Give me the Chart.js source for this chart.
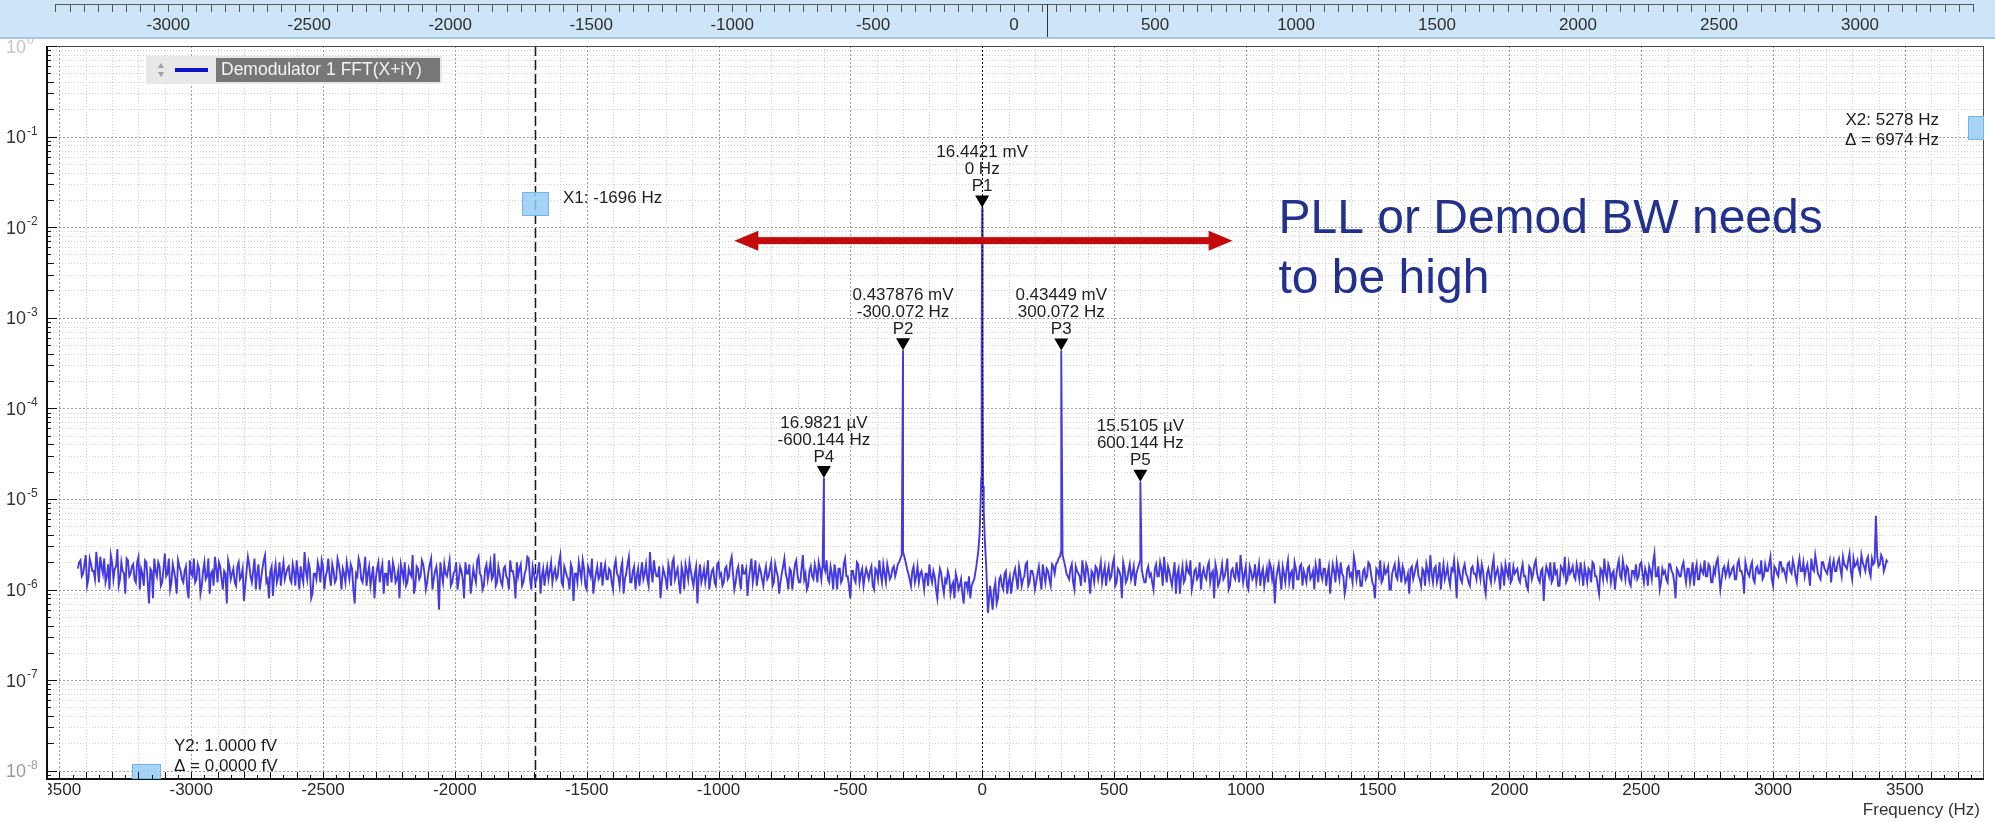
<!DOCTYPE html>
<html>
<head>
<meta charset="utf-8">
<title>Demodulator 1 FFT</title>
<script src="https://cdn.jsdelivr.net/npm/chart.js@4.4.1/dist/chart.umd.min.js"></script>
<style>
  html, body { margin: 0; padding: 0; background: #fff; }
  #wrap { width: 1995px; height: 822px; }
</style>
</head>
<body>
<div id="wrap"><canvas id="fft" width="1995" height="822"></canvas></div>
<script>
const FONT = '"Liberation Sans", Arial, Helvetica, sans-serif';

// axis ranges and ticks
const xMinHz = -3547, xMaxHz = 3800;
const yMinV = 8.1e-9, yMaxV = 1;
const xTickHz = [-3500, -3000, -2500, -2000, -1500, -1000, -500, 0, 500, 1000, 1500, 2000, 2500, 3000, 3500];
const yDecadeExp = [0, -1, -2, -3, -4, -5, -6, -7, -8];

// overview ruler above the plot
const rulerMinHz = -3430, rulerMaxHz = 3440;
const rulerTickHz = [-3000, -2500, -2000, -1500, -1000, -500, 0, 500, 1000, 1500, 2000, 2500, 3000];
const rulerCursorHz = 117;

// noise floor in µV; 10 Hz bins plus the bins halfway between them
const binHz = 10;
const noiseLeftStartHz = -3430;
const noiseLeftUV = [
  1.7, 2.1, 1.5, 2.4, 1.3, 1.9, 1.6, 2.6, 1.2, 1.8, 2.2, 1.4, 1.0, 2.0, 1.7, 2.8, 1.3, 1.6, 0.9, 2.1,
  1.5, 1.9, 1.2, 2.3, 1.7, 1.1, 2.0, 0.7, 1.6, 2.2, 1.4, 1.8, 1.2, 2.5, 1.5, 1.0, 1.9, 1.3, 2.1, 1.6,
  1.2, 1.8, 0.8, 1.5, 2.2, 1.3, 1.7, 1.1, 2.0, 1.4, 0.9, 1.6, 2.3, 1.2, 1.8, 1.0, 1.5, 2.1, 1.3, 1.7,
  1.1, 2.0, 1.4, 0.75, 1.6, 1.9, 1.2, 2.2, 1.5, 1.0, 1.7, 2.4, 1.3, 1.6, 0.85, 1.9, 1.4, 1.1, 2.0, 1.5,
  1.8, 1.2, 1.6, 2.1, 1.0, 1.4, 2.6, 1.3, 1.7, 0.9, 1.5, 2.0, 1.2, 1.8, 1.4, 2.2, 1.1, 1.6, 1.3, 1.9,
  1.0, 1.5, 2.0, 1.3, 1.7, 0.7, 1.4, 1.9, 1.2, 2.3, 1.5, 1.1, 1.8, 1.3, 2.0, 1.6, 0.9, 1.5, 2.1, 1.2,
  1.7, 1.3, 0.8, 1.6, 2.0, 1.2, 1.5, 2.4, 1.1, 1.7, 1.4, 1.9, 1.0, 1.6, 2.2, 1.3, 1.8, 0.6, 1.5, 1.9,
  1.4, 2.1, 1.2, 1.6, 1.0, 1.8, 1.3, 2.0, 1.5, 0.9, 1.7, 1.2, 2.3, 1.4, 1.1, 1.9, 1.6, 1.3, 2.5, 1.2,
  1.5, 1.1, 1.8, 1.3, 2.1, 1.6, 0.8, 1.4, 1.9, 1.2, 1.7, 2.2, 1.0, 1.5, 1.3, 2.0, 1.4, 1.1, 1.8, 1.6,
  1.2, 1.7, 1.4, 2.4, 1.1, 1.6, 1.3, 1.9, 0.75, 1.5, 2.0, 1.3, 1.7, 1.0, 1.6, 2.2, 1.2, 1.8, 1.4, 1.1,
  1.9, 1.3, 1.6, 1.0, 2.1, 1.4, 1.7, 0.9, 1.5, 2.3, 1.2, 1.8, 1.4, 1.1, 2.0, 1.5, 1.3, 2.6, 1.2, 1.6,
  1.4, 0.8, 1.7, 1.3, 1.9, 1.1, 2.2, 1.5, 1.2, 1.8, 1.0, 1.6, 2.0, 1.3, 1.5, 0.7, 1.9, 1.4, 1.2, 2.1,
  1.3, 1.7, 1.1, 2.0, 1.5, 1.2, 1.8, 1.4, 2.3, 1.0, 1.6, 1.3, 1.9, 1.5, 0.85, 1.7, 1.2, 2.1, 1.4, 1.6,
  1.1, 1.8, 1.4, 2.0, 1.2, 1.6, 0.9, 1.5, 2.2, 1.3, 1.7, 1.0, 1.9, 1.4, 1.2, 2.4, 1.5, 1.1, 1.8, 1.3,
  1.6, 2.0, 1.3, 1.8, 2.1, 1.2, 1.5, 1.9, 1.0, 1.7, 1.3, 2.2, 1.4, 0.8, 1.6, 1.2, 1.9, 1.5, 1.1, 1.7,
  1.3, 1.8, 1.0, 1.6, 2.1, 1.2, 1.5, 1.9, 1.3, 1.7, 1.4, 1.9, 2.2, 2.6, 2.0, 1.5, 1.1, 1.8, 1.4, 1.2,
  1.6, 1.0, 1.5, 1.9, 1.2, 1.4, 0.8, 1.7, 1.1, 1.3, 1.6, 0.9, 1.2, 1.5, 1.0, 1.3, 0.7, 1.2, 1.4, 1.1
];
const noiseLeftHalfUV = [
  2.0, 1.4, 1.9, 1.1, 2.2, 1.6, 1.3, 1.8, 2.3, 1.5, 1.2, 1.9, 2.4, 1.3, 1.8, 1.1, 2.0, 1.5, 2.2, 1.4,
  1.8, 1.3, 2.0, 1.0, 1.5, 2.1, 1.2, 1.7, 0.8, 1.6, 2.0, 1.1, 1.7, 1.4, 2.2, 1.2, 1.6, 0.9, 1.8, 1.3,
  1.6, 1.0, 2.1, 1.4, 1.2, 1.9, 0.9, 1.6, 1.3, 2.2, 1.5, 1.1, 1.7, 2.0, 1.3, 1.6, 0.7, 1.8, 1.5, 1.2,
  1.8, 1.3, 1.7, 1.1, 2.3, 1.4, 1.6, 1.0, 1.9, 1.3, 2.1, 1.2, 0.8, 1.8, 1.5, 1.2, 2.0, 1.6, 1.3, 1.7,
  1.3, 1.9, 1.1, 1.5, 1.8, 1.2, 1.6, 2.0, 0.8, 1.5, 1.3, 1.7, 2.1, 1.0, 1.6, 1.4, 1.9, 1.2, 2.2, 1.5,
  1.7, 1.2, 1.6, 1.9, 1.0, 1.5, 2.2, 1.3, 1.6, 1.1, 1.8, 1.4, 0.8, 1.7, 1.2, 1.9, 1.5, 1.1, 1.6, 2.0,
  1.2, 1.6, 1.9, 1.3, 1.1, 1.7, 1.4, 0.9, 1.8, 1.3, 2.1, 1.5, 1.2, 1.9, 1.0, 1.6, 1.3, 2.0, 1.2, 1.5,
  1.7, 1.1, 1.5, 2.0, 1.3, 1.6, 0.8, 1.5, 1.9, 1.2, 1.4, 2.1, 1.5, 1.0, 1.7, 1.3, 2.0, 1.4, 1.1, 1.8,
  1.2, 1.7, 1.4, 1.0, 1.6, 1.3, 2.0, 1.7, 1.1, 1.5, 2.3, 1.3, 1.8, 1.2, 1.6, 0.9, 1.7, 1.5, 1.3, 2.0,
  1.5, 1.3, 2.0, 1.2, 1.8, 1.4, 1.0, 1.7, 1.5, 1.2, 1.6, 2.1, 1.1, 1.8, 1.4, 0.9, 1.5, 1.3, 2.0, 1.6,
  1.3, 1.7, 1.2, 1.8, 1.5, 1.1, 2.0, 1.3, 1.9, 1.2, 1.6, 1.0, 1.7, 1.5, 1.3, 1.9, 1.1, 1.6, 2.1, 1.4,
  1.8, 1.2, 1.5, 1.0, 1.6, 2.0, 1.3, 1.7, 0.9, 1.5, 1.9, 1.3, 1.6, 1.1, 1.8, 1.4, 1.2, 1.7, 1.5, 1.0,
  1.6, 1.2, 1.9, 1.4, 1.1, 1.7, 1.3, 2.0, 1.5, 1.2, 1.8, 1.0, 1.5, 1.7, 1.3, 2.2, 1.5, 1.1, 1.8, 1.3,
  1.5, 1.3, 1.7, 1.1, 1.9, 1.4, 1.2, 1.8, 1.5, 1.0, 1.6, 1.4, 2.1, 1.2, 1.7, 1.3, 1.0, 1.6, 1.4, 1.9,
  1.2, 1.7, 1.9, 1.6, 1.3, 1.8, 1.0, 1.5, 1.7, 1.2, 1.9, 1.4, 1.1, 1.6, 1.3, 2.0, 1.2, 1.7, 1.4, 1.5,
  1.6, 1.1, 1.7, 1.3, 1.5, 1.9, 1.2, 1.6, 1.4, 1.8, 1.6, 2.0, 2.4, 2.3, 1.7, 1.3, 1.6, 1.2, 1.8, 1.5,
  1.3, 1.5, 1.1, 1.4, 1.6, 1.0, 1.3, 1.5, 0.9, 1.2, 1.4, 1.1, 0.8, 1.3, 1.1, 0.9, 1.2, 1.0, 0.8, 1.2
];
const noiseRightStartHz = 40;
const noiseRightUV = [
  0.6, 1.2, 0.8, 1.4, 1.0, 1.6, 1.2, 0.9, 1.5, 1.3, 1.8, 1.1, 1.4, 2.0, 1.2, 1.6, 1.0, 1.5, 1.3, 1.9,
  1.2, 1.6, 1.1, 1.8, 1.9, 2.2, 2.7, 2.1, 1.5, 1.3, 1.9, 1.0, 1.6, 1.4, 2.1, 1.2, 1.7, 0.9, 1.5, 1.8,
  1.3, 2.0, 1.5, 1.1, 1.8, 1.4, 2.2, 1.2, 1.6, 0.8, 1.7, 1.3, 1.9, 1.5, 1.1, 1.7, 2.1, 1.4, 1.2, 1.8,
  1.5, 1.0, 1.9, 1.4, 1.7, 2.3, 1.2, 1.6, 1.1, 2.0, 1.5, 0.9, 1.8, 1.3, 1.6, 2.1, 1.2, 1.7, 1.4, 1.0,
  1.7, 1.3, 2.0, 1.5, 0.8, 1.6, 1.2, 1.9, 1.4, 2.2, 1.1, 1.7, 1.3, 1.5, 2.4, 1.2, 1.8, 1.0, 1.6, 1.4,
  1.2, 1.9, 1.5, 1.1, 1.7, 2.0, 1.3, 0.7, 1.6, 1.4, 1.8, 1.2, 2.1, 1.5, 1.0, 1.7, 1.3, 1.9, 1.6, 1.2,
  1.8, 1.4, 1.0, 1.6, 2.2, 1.3, 1.7, 1.5, 0.9, 1.9, 1.2, 1.6, 2.0, 1.4, 1.1, 1.8, 1.5, 2.3, 1.3, 1.6,
  1.1, 1.7, 1.4, 1.9, 1.2, 0.8, 1.6, 2.1, 1.3, 1.5, 1.8, 1.0, 1.7, 1.4, 2.0, 1.2, 1.6, 1.3, 0.9, 1.8,
  1.5, 2.0, 1.3, 1.7, 1.1, 1.6, 2.4, 1.2, 1.8, 1.4, 1.0, 1.9, 1.5, 1.3, 1.7, 2.1, 0.8, 1.6, 1.2, 1.9,
  1.4, 1.1, 1.8, 1.5, 2.0, 1.3, 1.6, 0.9, 1.7, 1.2, 2.2, 1.5, 1.4, 1.8, 1.1, 1.6, 2.0, 1.3, 1.5, 1.7,
  1.2, 1.9, 1.4, 1.0, 1.7, 1.5, 2.1, 1.3, 1.6, 0.75, 1.8, 1.4, 1.2, 2.0, 1.6, 1.1, 1.7, 2.3, 1.3, 1.5,
  1.8, 1.3, 1.6, 2.0, 1.1, 1.5, 1.7, 1.2, 1.9, 1.4, 0.9, 1.6, 2.2, 1.3, 1.7, 1.5, 1.0, 1.8, 1.4, 2.1,
  1.3, 1.7, 1.1, 1.6, 1.9, 1.4, 2.0, 1.2, 1.5, 1.8, 1.3, 2.5, 1.4, 1.0, 1.7, 1.6, 1.2, 1.9, 1.5, 0.8,
  1.6, 1.4, 2.0, 1.2, 1.7, 1.5, 1.1, 1.9, 1.3, 1.6, 2.1, 1.4, 1.8, 1.2, 1.5, 2.2, 1.0, 1.7, 1.4, 1.9,
  1.5, 1.8, 1.3, 2.1, 1.6, 0.9, 1.7, 1.4, 2.0, 1.2, 1.8, 1.5, 1.3, 1.9, 1.6, 2.3, 1.1, 1.7, 1.4, 2.0,
  1.7, 1.3, 2.0, 1.5, 1.8, 1.2, 2.2, 1.6, 1.4, 1.9, 1.1, 1.7, 2.4, 1.5, 1.3, 2.0, 1.6, 1.8, 1.2, 2.1,
  1.6, 2.2, 1.4, 1.9, 1.7, 2.5, 1.3, 1.8, 2.1, 1.5, 2.0, 1.6, 2.3, 1.4, 1.9, 6.5, 1.8, 2.4, 1.6, 2.1
];
const noiseRightHalfUV = [
  1.0, 0.7, 1.3, 1.1, 1.5, 0.9, 1.4, 1.2, 1.7, 1.0, 1.5, 1.3, 1.9, 1.1, 1.6, 1.4, 1.2, 1.8, 1.0, 1.5,
  1.7, 1.3, 1.9, 1.5, 2.0, 2.3, 2.4, 1.8, 1.4, 1.7, 1.2, 1.8, 1.5, 1.1, 1.6, 1.9, 1.3, 1.6, 1.2, 1.7,
  1.6, 1.2, 1.8, 1.5, 1.3, 1.9, 1.1, 1.7, 1.4, 2.0, 1.2, 1.6, 1.3, 1.8, 1.5, 1.9, 1.7, 1.2, 1.6, 1.4,
  1.2, 1.7, 1.4, 2.0, 1.1, 1.6, 1.8, 1.3, 1.5, 0.9, 1.7, 1.4, 1.2, 1.9, 1.5, 1.0, 1.6, 1.3, 2.0, 1.5,
  1.4, 1.8, 1.2, 1.6, 1.9, 1.1, 1.5, 1.3, 1.7, 1.0, 1.6, 1.4, 2.0, 1.2, 1.7, 1.5, 1.1, 1.8, 1.3, 1.9,
  1.5, 1.1, 1.7, 1.4, 1.2, 1.8, 1.6, 1.3, 1.9, 1.0, 1.5, 1.7, 1.2, 1.6, 2.0, 1.3, 1.8, 1.1, 1.4, 1.7,
  1.3, 1.6, 1.9, 1.2, 1.5, 1.7, 1.1, 1.8, 1.4, 1.6, 2.0, 1.3, 1.5, 0.9, 1.7, 1.4, 1.2, 1.9, 1.6, 1.1,
  1.6, 1.3, 2.0, 1.5, 1.1, 1.7, 1.4, 1.2, 1.8, 1.6, 1.0, 1.5, 1.9, 1.3, 1.6, 1.8, 1.2, 1.5, 1.7, 1.3,
  1.8, 1.4, 1.1, 1.6, 1.9, 1.3, 1.5, 1.7, 1.2, 2.0, 1.5, 1.3, 1.8, 1.1, 1.6, 1.4, 1.9, 1.3, 1.7, 1.5,
  1.2, 1.7, 1.5, 1.3, 1.6, 1.9, 1.1, 1.5, 1.4, 1.8, 1.3, 1.7, 1.0, 1.6, 1.9, 1.4, 1.2, 1.8, 1.6, 1.3,
  1.6, 1.4, 1.1, 1.8, 1.3, 1.9, 1.5, 1.2, 1.7, 1.4, 1.6, 2.0, 1.3, 1.5, 1.1, 1.8, 1.5, 1.2, 1.9, 1.6,
  1.4, 1.9, 1.3, 1.5, 1.8, 1.2, 1.6, 2.0, 1.4, 1.1, 1.7, 1.3, 1.5, 1.9, 1.2, 1.6, 1.4, 2.1, 1.3, 1.7,
  1.8, 1.2, 1.6, 1.4, 1.3, 1.9, 1.5, 1.7, 1.1, 1.6, 2.0, 1.4, 1.8, 1.2, 1.5, 1.3, 1.9, 1.6, 1.2, 1.7,
  1.4, 1.8, 1.5, 1.7, 1.2, 2.0, 1.6, 1.3, 1.8, 1.5, 1.4, 1.9, 1.2, 1.7, 2.0, 1.5, 1.3, 1.8, 1.6, 1.4,
  1.7, 1.3, 1.9, 1.6, 1.4, 2.0, 1.5, 1.8, 1.3, 1.7, 1.5, 2.1, 1.4, 1.6, 1.9, 1.3, 1.8, 1.5, 2.0, 1.6,
  1.5, 1.9, 1.6, 2.1, 1.4, 1.8, 1.6, 2.0, 1.7, 1.5, 2.2, 1.6, 1.9, 1.4, 2.0, 1.7, 1.5, 2.1, 1.8, 1.6,
  2.0, 1.7, 2.3, 1.8, 2.1, 1.6, 2.2, 1.9, 1.7, 2.4, 1.8, 2.1, 1.6, 2.2, 2.0, 2.3, 1.9, 2.2, 1.8, 2.0
];

// carrier skirt around 0 Hz, µV
const skirtHz = [-30, -22, -15, -10, -6, -3.4, -1.7, 1.7, 3.4, 6, 10, 15, 22, 30];
const skirtUV = [1.3, 1.8, 2.6, 4.0, 8.5, 17, 420, 380, 14, 7.5, 3.6, 1.9, 0.55, 1.1];

// marked peaks, volts
const peakNames = ['P4', 'P2', 'P1', 'P3', 'P5'];
const peakHz = [-600.144, -300.072, 0, 300.072, 600.144];
const peakV = [16.9821e-6, 0.437876e-3, 16.4421e-3, 0.43449e-3, 15.5105e-6];

// cursors
const x1Hz = -1696, x2Hz = 5278;
const y2Fv = 1.0, y2DeltaFv = 0.0;

// bandwidth note
const arrowFromHz = -940, arrowToHz = 950, arrowLevelV = 7.1e-3;
const noteLines = ['PLL or Demod BW needs', 'to be high'];
const noteHz = 1124, noteLevelV = 8.6e-3;

const points = [];
noiseLeftUV.forEach((v, i) => points.push({ x: noiseLeftStartHz + i * binHz, y: v * 1e-6 }));
noiseLeftHalfUV.forEach((v, i) => points.push({ x: noiseLeftStartHz + binHz / 2 + i * binHz, y: v * 1e-6 }));
noiseRightUV.forEach((v, i) => points.push({ x: noiseRightStartHz + i * binHz, y: v * 1e-6 }));
noiseRightHalfUV.forEach((v, i) => points.push({ x: noiseRightStartHz + binHz / 2 + i * binHz, y: v * 1e-6 }));
skirtHz.forEach((f, i) => points.push({ x: f, y: skirtUV[i] * 1e-6 }));
peakHz.forEach((f, i) => points.push({ x: f, y: peakV[i] }));
points.sort((a, b) => a.x - b.x);

function fmtVolt(v) {
  return v >= 1e-4 ? `${+(v * 1e3).toPrecision(6)} mV` : `${+(v * 1e6).toPrecision(6)} µV`;
}
function fmtHz(f) {
  return `${+f.toFixed(3)} Hz`;
}

function vline(ctx, p, top, bottom) {
  const q = Math.round(p) + 0.5;
  ctx.beginPath(); ctx.moveTo(q, top); ctx.lineTo(q, bottom); ctx.stroke();
}
function hline(ctx, p, left, right) {
  const q = Math.round(p) + 0.5;
  ctx.beginPath(); ctx.moveTo(left, q); ctx.lineTo(right, q); ctx.stroke();
}

function decadeLabel(ctx, e, yc, color) {
  ctx.fillStyle = color;
  ctx.textAlign = 'left';
  ctx.textBaseline = 'alphabetic';
  ctx.font = `18px ${FONT}`;
  ctx.fillText('10', 6, yc + 6.5);
  const w = ctx.measureText('10').width;
  ctx.font = `12px ${FONT}`;
  ctx.fillText(e === 0 ? '0' : `-${-e}`, 6 + w + 1, yc - 2);
}

function cursorBox(ctx, x, y, w, h) {
  ctx.fillStyle = 'rgba(150, 205, 245, 0.85)';
  ctx.fillRect(x, y, w, h);
  ctx.strokeStyle = '#73b6e6';
  ctx.lineWidth = 1;
  ctx.strokeRect(x + 0.5, y + 0.5, w - 1, h - 1);
}

const decor = {
  id: 'decor',
  beforeDatasetsDraw(chart) {
    const { ctx, chartArea: a, scales: { x, y } } = chart;
    ctx.save();
    ctx.lineWidth = 1;

    // minor grid
    ctx.setLineDash([1, 2]);
    ctx.strokeStyle = '#cfcfcf';
    for (let f = -3500; f <= 3700; f += 100) {
      if (f % 500 !== 0) vline(ctx, x.getPixelForValue(f), a.top, a.bottom);
    }
    for (let e = -9; e < 0; e++) {
      for (let k = 2; k <= 9; k++) {
        const v = k * Math.pow(10, e);
        if (v > yMinV && v < yMaxV) hline(ctx, y.getPixelForValue(v), a.left, a.right);
      }
    }

    // major grid
    ctx.setLineDash([2, 2]);
    ctx.strokeStyle = '#a0a0a0';
    xTickHz.forEach(f => { if (f !== 0) vline(ctx, x.getPixelForValue(f), a.top, a.bottom); });
    yDecadeExp.forEach(e => { if (e < 0) hline(ctx, y.getPixelForValue(Math.pow(10, e)), a.left, a.right); });

    // X1 cursor
    ctx.strokeStyle = '#1a1a1a';
    ctx.lineWidth = 1.5;
    ctx.setLineDash([10, 4]);
    vline(ctx, x.getPixelForValue(x1Hz), a.top, a.bottom);
    ctx.restore();
  },

  afterDatasetsDraw(chart) {
    const { ctx, chartArea: a, scales: { x, y, ruler } } = chart;
    const W = chart.width;
    ctx.save();

    // 0 Hz reference line
    ctx.lineWidth = 1;
    ctx.strokeStyle = '#000';
    ctx.setLineDash([2, 2]);
    vline(ctx, x.getPixelForValue(0), a.top, a.bottom);
    ctx.setLineDash([]);

    // frame
    ctx.strokeStyle = '#4a4a4a';
    ctx.lineWidth = 1;
    hline(ctx, a.top, a.left, a.right);
    vline(ctx, a.right - 1, a.top, a.bottom);
    ctx.fillStyle = '#111';
    ctx.fillRect(a.left - 1, a.top, 2, a.bottom - a.top + 1);
    ctx.fillRect(a.left - 1, a.bottom - 1, a.right - a.left + 1, 2);

    // axis ticks, drawn inward
    ctx.strokeStyle = '#111';
    ctx.lineWidth = 1;
    for (let f = -3500; f <= 3750; f += 50) {
      const len = f % 100 === 0 ? 7 : 4;
      vline(ctx, x.getPixelForValue(f), a.bottom - len, a.bottom);
    }
    for (let e = -9; e <= 0; e++) {
      for (let k = 1; k <= 9; k++) {
        const v = k * Math.pow(10, e);
        if (v < yMinV || v > yMaxV) continue;
        const len = k === 1 ? 10 : (k <= 4 ? 7 : 4);
        hline(ctx, y.getPixelForValue(v), a.left, a.left + len);
      }
    }

    // y labels
    yDecadeExp.forEach(e => {
      const col = e === 0 ? '#c4c4c4' : (e === -8 ? '#9a9a9a' : '#333');
      decadeLabel(ctx, e, y.getPixelForValue(Math.pow(10, e)), col);
    });

    // x labels
    ctx.save();
    ctx.beginPath();
    ctx.rect(a.left + 1, a.bottom, W, 40);
    ctx.clip();
    ctx.fillStyle = '#2a2a2a';
    ctx.font = `17px ${FONT}`;
    ctx.textAlign = 'center';
    ctx.textBaseline = 'middle';
    xTickHz.forEach(f => ctx.fillText(String(f), x.getPixelForValue(f), a.bottom + 11));
    ctx.restore();

    ctx.fillStyle = '#333';
    ctx.font = `17px ${FONT}`;
    ctx.textAlign = 'right';
    ctx.textBaseline = 'middle';
    ctx.fillText('Frequency (Hz)', W - 15, a.bottom + 31);

    // peak markers
    ctx.font = `17px ${FONT}`;
    ctx.textAlign = 'center';
    peakHz.forEach((f, i) => {
      const tx = x.getPixelForValue(f);
      const ty = y.getPixelForValue(peakV[i]);
      ctx.fillStyle = '#000';
      ctx.beginPath();
      ctx.moveTo(tx - 7, ty - 12);
      ctx.lineTo(tx + 7, ty - 12);
      ctx.lineTo(tx, ty);
      ctx.closePath();
      ctx.fill();
      ctx.fillStyle = '#1e1e1e';
      ctx.fillText(peakNames[i], tx, ty - 21);
      ctx.fillText(fmtHz(f), tx, ty - 38);
      ctx.fillText(fmtVolt(peakV[i]), tx, ty - 55);
    });

    // legend
    ctx.fillStyle = '#e8e8e8';
    ctx.fillRect(146, 56, 296, 28);
    ctx.fillStyle = '#a0a0a0';
    ctx.beginPath();
    ctx.moveTo(158, 68); ctx.lineTo(164, 68); ctx.lineTo(161, 63); ctx.closePath(); ctx.fill();
    ctx.beginPath();
    ctx.moveTo(158, 72); ctx.lineTo(164, 72); ctx.lineTo(161, 77); ctx.closePath(); ctx.fill();
    ctx.fillStyle = '#1010c8';
    ctx.fillRect(175, 68, 33, 4);
    ctx.fillStyle = '#777';
    ctx.fillRect(216, 58, 224, 24);
    ctx.fillStyle = '#f4f4f4';
    ctx.font = `17.5px ${FONT}`;
    ctx.textAlign = 'left';
    ctx.textBaseline = 'middle';
    ctx.fillText(chart.data.datasets[0].label, 221, 70.5);

    // cursors
    const x1px = x.getPixelForValue(x1Hz);
    cursorBox(ctx, Math.round(x1px) - 13, 192, 27, 24);
    ctx.fillStyle = '#1e1e1e';
    ctx.font = `17px ${FONT}`;
    ctx.textAlign = 'left';
    ctx.fillText(`X1: ${x1Hz} Hz`, x1px + 28, 198);

    cursorBox(ctx, a.right - 16, 116, 16, 24);
    ctx.fillStyle = '#1e1e1e';
    ctx.textAlign = 'right';
    ctx.fillText(`X2: ${x2Hz} Hz`, a.right - 45, 120);
    ctx.fillText(`Δ = ${x2Hz - x1Hz} Hz`, a.right - 45, 140);

    cursorBox(ctx, 132, a.bottom - 15, 29, 15);
    ctx.strokeStyle = '#111';
    for (let f = -3300; f <= -3150; f += 50) {
      const len = f % 100 === 0 ? 7 : 4;
      vline(ctx, x.getPixelForValue(f), a.bottom - len, a.bottom);
    }
    ctx.textAlign = 'left';
    ctx.fillStyle = '#1e1e1e';
    ctx.fillText(`Y2: ${y2Fv.toFixed(4)} fV`, 174, a.bottom - 33);
    ctx.fillText(`Δ = ${y2DeltaFv.toFixed(4)} fV`, 174, a.bottom - 13);

    // bandwidth arrow
    const ax0 = x.getPixelForValue(arrowFromHz);
    const ax1 = x.getPixelForValue(arrowToHz);
    const ay = y.getPixelForValue(arrowLevelV);
    ctx.fillStyle = '#c20a0a';
    ctx.fillRect(ax0 + 18, ay - 3.5, ax1 - ax0 - 36, 7);
    ctx.beginPath();
    ctx.moveTo(ax0, ay); ctx.lineTo(ax0 + 24, ay - 10); ctx.lineTo(ax0 + 24, ay + 10); ctx.closePath();
    ctx.fill();
    ctx.beginPath();
    ctx.moveTo(ax1, ay); ctx.lineTo(ax1 - 24, ay - 10); ctx.lineTo(ax1 - 24, ay + 10); ctx.closePath();
    ctx.fill();

    // note
    ctx.fillStyle = '#22308e';
    ctx.font = `48px ${FONT}`;
    ctx.textAlign = 'left';
    ctx.textBaseline = 'alphabetic';
    const nx = x.getPixelForValue(noteHz);
    const ny = y.getPixelForValue(noteLevelV);
    noteLines.forEach((t, i) => ctx.fillText(t, nx, ny + i * 60));

    // overview ruler
    ctx.fillStyle = '#cde5f7';
    ctx.fillRect(0, 0, W, 39);
    ctx.fillStyle = '#a3c9e8';
    ctx.fillRect(0, 37, W, 2);
    ctx.strokeStyle = '#555';
    ctx.lineWidth = 1;
    const r0 = ruler.getPixelForValue(-3400), r1 = ruler.getPixelForValue(3400);
    hline(ctx, 4, r0, r1 + 1);
    for (let f = -3400; f <= 3400; f += 50) vline(ctx, ruler.getPixelForValue(f), 4, 12);
    ctx.strokeStyle = '#333';
    vline(ctx, ruler.getPixelForValue(rulerCursorHz), 4, 37);
    ctx.fillStyle = '#2e2e2e';
    ctx.font = `17px ${FONT}`;
    ctx.textAlign = 'center';
    ctx.textBaseline = 'middle';
    rulerTickHz.forEach(f => ctx.fillText(String(f), ruler.getPixelForValue(f), 25));

    ctx.restore();
  }
};

new Chart(document.getElementById('fft'), {
  type: 'line',
  data: {
    datasets: [{
      label: 'Demodulator 1 FFT(X+iY)',
      data: points,
      borderColor: '#4539e0',
      borderWidth: 1.9,
      pointRadius: 0,
      tension: 0,
      fill: false
    }]
  },
  options: {
    responsive: false,
    animation: false,
    devicePixelRatio: 1,
    parsing: false,
    normalized: true,
    layout: { padding: { left: 47, right: 11, top: 46, bottom: 43 } },
    plugins: { legend: { display: false }, tooltip: { enabled: false } },
    scales: {
      x: { type: 'linear', display: false, min: xMinHz, max: xMaxHz },
      y: { type: 'logarithmic', display: false, min: yMinV, max: yMaxV },
      ruler: { type: 'linear', axis: 'x', display: false, min: rulerMinHz, max: rulerMaxHz }
    }
  },
  plugins: [decor]
});
</script>
</body>
</html>
